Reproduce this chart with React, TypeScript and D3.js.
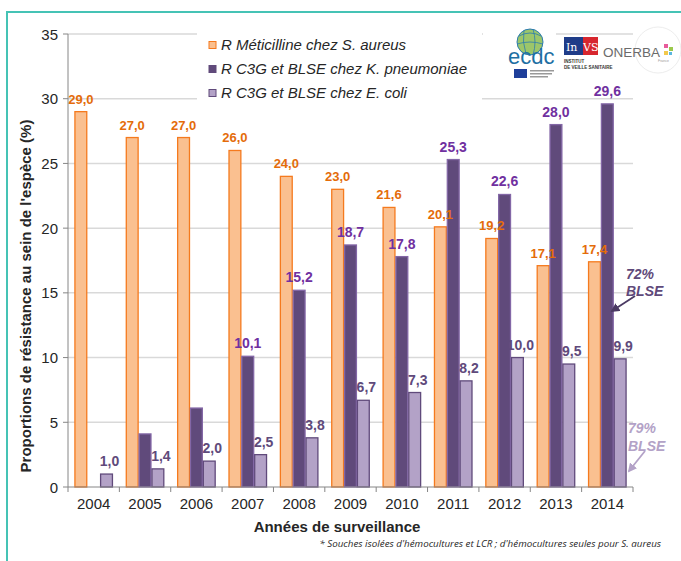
import React from 'react';
import * as d3 from 'd3';

// Data
const years = ['2004', '2005', '2006', '2007', '2008', '2009', '2010', '2011', '2012', '2013', '2014'];
const saureus = [29.0, 27.0, 27.0, 26.0, 24.0, 23.0, 21.6, 20.1, 19.2, 17.1, 17.4];
const kpneumo: (number | null)[] = [null, 4.1, 6.1, 10.1, 15.2, 18.7, 17.8, 25.3, 22.6, 28.0, 29.6];
const ecoli = [1.0, 1.4, 2.0, 2.5, 3.8, 6.7, 7.3, 8.2, 10.0, 9.5, 9.9];
const kpneumoNoLabel = ['2005', '2006'];
const yTicks = [0, 5, 10, 15, 20, 25, 30, 35];

const seriesNames = [
  'R Méticilline chez S. aureus',
  'R C3G et BLSE chez K. pneumoniae',
  'R C3G et BLSE chez E. coli',
];

const FONT = '"Liberation Sans", Arial, sans-serif';

const fmt = (v: number) => v.toFixed(1).replace('.', ',');

const App = () => {
  const width = 681;
  const height = 561;
  const left = 68;
  const right = 633;
  const top = 34;
  const bottom = 487;

  const x = d3.scaleBand<string>().domain(years).range([left, right]).padding(0);
  const xs = d3.scaleBand<string>().domain(['sa', 'kp', 'ec']).range([0, x.bandwidth()]).paddingInner(0).paddingOuter(0.5);
  const y = d3.scaleLinear().domain([0, 35]).range([bottom, top]);

  const series = [
    { key: 'sa', values: saureus as (number | null)[], fill: '#FAC090', stroke: '#F57A1E', label: '#E46C0A', dx: 0 },
    { key: 'kp', values: kpneumo, fill: '#604A7B', stroke: '#8367A6', label: '#7030A0', dx: 0 },
    { key: 'ec', values: ecoli as (number | null)[], fill: '#B3A2C7', stroke: '#604A7B', label: '#604A7B', dx: 3 },
  ];

  const bw = xs.bandwidth();

  return (
    <svg width={width} height={height} style={{ position: 'absolute', left: 0, top: 0, background: '#fff' }}>
      <defs>
        <marker id="arrDark" viewBox="0 0 10 10" refX="8" refY="5" markerWidth="5" markerHeight="5" orient="auto">
          <path d="M0,0 L10,5 L0,10 z" fill="#4B3A63" />
        </marker>
        <marker id="arrLight" viewBox="0 0 10 10" refX="8" refY="5" markerWidth="5" markerHeight="5" orient="auto">
          <path d="M0,0 L10,5 L0,10 z" fill="#B3A2C7" />
        </marker>
      </defs>

      {/* frame */}
      <rect x={7} y={12} width={720} height={620} fill="none" stroke="#45C3B5" strokeWidth={2} />

      {/* gridlines */}
      {yTicks.filter(t => t > 0).map(t => (
        <line key={t} x1={left} x2={right} y1={y(t)} y2={y(t)} stroke="#D9D9D9" strokeWidth={1.5} />
      ))}

      {/* legend box */}
      <rect x={197} y={28} width={285} height={77} fill="#fff" />
      {seriesNames.map((name, i) => (
        <g key={name} transform={`translate(209,${45 + i * 24})`}>
          <rect x={0} y={-3.5} width={7} height={7} fill={series[i].fill} stroke={series[i].key === 'sa' ? series[i].stroke : '#604A7B'} strokeWidth={1} />
          <text x={12} y={5} fontFamily={FONT} fontSize={15} fontStyle="italic" fill="#262626">{name}</text>
        </g>
      ))}

      {/* logos */}
      <g>
        <rect x={483} y={26} width={73} height={56} fill="#fff" />
        <circle cx={530} cy={42} r={13} fill="#9CC66A" stroke="#2B7BB0" strokeWidth={1} />
        <path d="M519,36 Q530,30 541,36 M517,44 Q530,40 543,44 M524,30 Q522,42 526,54 M533,29 Q537,42 533,55" fill="none" stroke="#2B7BB0" strokeWidth={0.8} />
        <text x={508} y={64} fontFamily={FONT} fontSize={22} fill="#1E6FA3">ecdc</text>
        <rect x={514} y={69} width={13} height={9} fill="#1F3F9A" />
        <rect x={530} y={70} width={24} height={1.5} fill="#999" />
        <rect x={530} y={73} width={22} height={1.5} fill="#999" />
        <rect x={530} y={76} width={18} height={1.5} fill="#999" />

        <rect x={564} y={37} width={20} height={18} fill="#1F3C88" />
        <path d="M583,37 L598,37 L598,55 L583,55 Z" fill="#D7262E" />
        <text x={566} y={51} fontFamily="'DejaVu Serif', serif" fontSize={11} fill="#fff">In</text>
        <text x={583} y={51} fontFamily="'DejaVu Serif', serif" fontSize={11} fill="#fff">VS</text>
        <text x={564} y={63} fontFamily={FONT} fontSize={4.5} fontWeight="bold" fill="#333">INSTITUT</text>
        <text x={564} y={69} fontFamily={FONT} fontSize={4.5} fontWeight="bold" fill="#333">DE VEILLE SANITAIRE</text>

        <circle cx={658} cy={50} r={23} fill="none" stroke="#EDEDED" strokeWidth={1} />
        <text x={603} y={57} fontFamily={FONT} fontSize={13.5} fill="#6B6B6B">ONERBA</text>
        <rect x={664} y={44} width={4} height={4} fill="#E85C9B" />
        <rect x={669} y={47} width={4} height={4} fill="#9BC94C" />
        <rect x={664} y={51} width={4} height={4} fill="#F2C94C" />
        <rect x={669} y={52} width={3} height={3} fill="#5AB7E0" />
        <text x={658} y={62} fontFamily={FONT} fontSize={3.5} fill="#999">France</text>
      </g>

      {/* bars */}
      {series.map(s => (
        <g key={s.key}>
          {years.map((yr, i) => {
            const v = s.values[i];
            if (v == null) return null;
            const bx = (x(yr) ?? 0) + (xs(s.key) ?? 0);
            return (
              <rect key={yr} x={bx + 0.5} y={y(v)} width={bw - 1} height={bottom - y(v)} fill={s.fill} stroke={s.stroke} strokeWidth={1.3} />
            );
          })}
        </g>
      ))}

      {/* value labels */}
      {series.map(s => (
        <g key={s.key + 'lbl'}>
          {years.map((yr, i) => {
            const v = s.values[i];
            if (v == null) return null;
            if (s.key === 'kp' && kpneumoNoLabel.includes(yr)) return null;
            const cx = (x(yr) ?? 0) + (xs(s.key) ?? 0) + bw / 2 + s.dx;
            return (
              <text key={yr} x={cx} y={y(v) - 8} textAnchor="middle" fontFamily={FONT} fontSize={s.key === 'sa' ? 13 : 14} fontWeight="bold" fill={s.label}>
                {fmt(v)}
              </text>
            );
          })}
        </g>
      ))}

      {/* y axis */}
      <line x1={left} x2={left} y1={top} y2={bottom} stroke="#868686" strokeWidth={1} />
      {yTicks.map(t => (
        <g key={t}>
          <line x1={left - 5} x2={left} y1={y(t)} y2={y(t)} stroke="#868686" strokeWidth={1} />
          <text x={58} y={y(t) + 5.5} textAnchor="end" fontFamily={FONT} fontSize={15} fill="#262626">{t}</text>
        </g>
      ))}
      <text transform={`translate(31,296) rotate(-90)`} textAnchor="middle" fontFamily={FONT} fontSize={15} fontWeight="bold" fill="#262626">
        Proportions de résistance au sein de l'espèce (%)
      </text>

      {/* x axis */}
      <line x1={left} x2={right} y1={bottom} y2={bottom} stroke="#868686" strokeWidth={1} />
      {[...years.map(yr => x(yr) ?? 0), right].map((px, i) => (
        <line key={i} x1={px} x2={px} y1={bottom} y2={bottom + 5} stroke="#868686" strokeWidth={1} />
      ))}
      {years.map(yr => (
        <text key={yr} x={(x(yr) ?? 0) + x.bandwidth() / 2} y={509} textAnchor="middle" fontFamily={FONT} fontSize={15} fill="#262626">{yr}</text>
      ))}
      <text x={337} y={532} textAnchor="middle" fontFamily={FONT} fontSize={15} fontWeight="bold" fill="#262626">Années de surveillance</text>
      <text x={661} y={547} textAnchor="end" fontFamily='"Open Sans", sans-serif' fontSize={9.8} fontStyle="italic" fill="#262626">
        * Souches isolées d'hémocultures et LCR ; d'hémocultures seules pour S. aureus
      </text>

      {/* annotations */}
      <text x={626} y={279} fontFamily={FONT} fontSize={14} fontWeight="bold" fontStyle="italic" fill="#5F497A">72%</text>
      <text x={626} y={296} fontFamily={FONT} fontSize={14} fontWeight="bold" fontStyle="italic" fill="#5F497A">BLSE</text>
      <line x1={635} y1={296} x2={612} y2={311} stroke="#4B3A63" strokeWidth={1.8} markerEnd="url(#arrDark)" />

      <text x={628} y={433} fontFamily={FONT} fontSize={14} fontWeight="bold" fontStyle="italic" fill="#B3A2C7">79%</text>
      <text x={628} y={451} fontFamily={FONT} fontSize={14} fontWeight="bold" fontStyle="italic" fill="#B3A2C7">BLSE</text>
      <line x1={645} y1={451} x2={629} y2={471} stroke="#B3A2C7" strokeWidth={1.8} markerEnd="url(#arrLight)" />
    </svg>
  );
};

export default App;
